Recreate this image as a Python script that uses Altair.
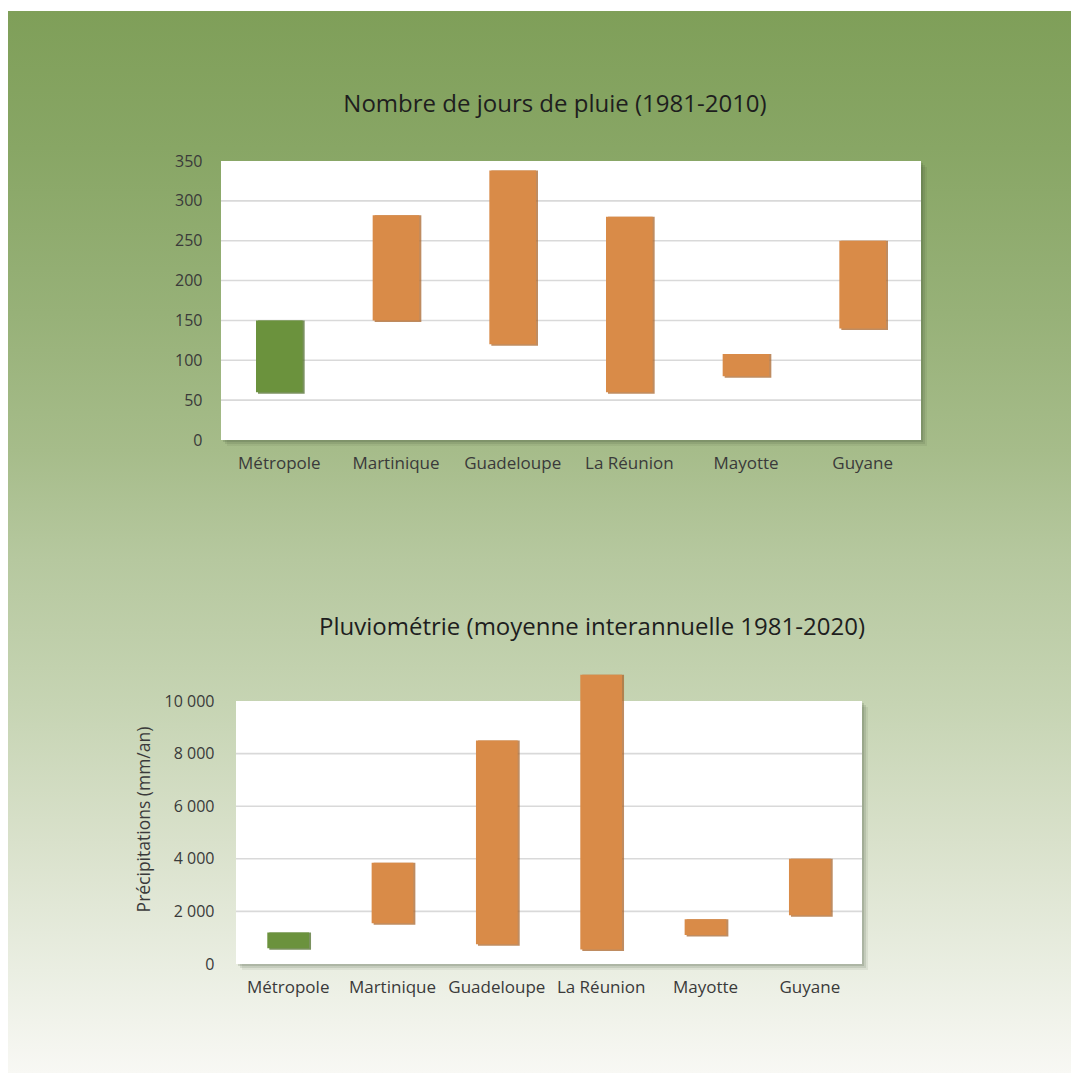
import altair as alt
import pandas as pd

# --- data -----------------------------------------------------------------
territories = ["Métropole", "Martinique", "Guadeloupe", "La Réunion", "Mayotte", "Guyane"]
groups = ["Hexagone", "Outre-mer", "Outre-mer", "Outre-mer", "Outre-mer", "Outre-mer"]

rain_days_low = [60, 150, 120, 60, 80, 140]
rain_days_high = [150, 282, 338, 280, 108, 250]

precip_low = [600, 1550, 750, 550, 1100, 1850]
precip_high = [1200, 3850, 8500, 11000, 1700, 4000]

days_ticks = [0, 50, 100, 150, 200, 250, 300, 350]
days_grid = [50, 100, 150, 200, 250, 300]
precip_ticks = [0, 2000, 4000, 6000, 8000, 10000]
precip_grid = [2000, 4000, 6000, 8000]

title_days = "Nombre de jours de pluie (1981-2010)"
title_precip = "Pluviométrie (moyenne interannuelle 1981-2020)"
precip_axis_title = "Précipitations (mm/an)"

# --- styling ----------------------------------------------------------------
FONT = "Open Sans"
TEXT = "#3a3a3a"
GREEN, GREEN_DARK = "#6b923d", "#4f6e2b"
ORANGE, ORANGE_DARK = "#d98b48", "#a9652c"
GRID = "#d9d9d9"

W = 700          # shared panel width
H_TOP = 279      # top plot height
H_BOT = 263      # bottom plot height
BOT_X0, BOT_X1 = 15, 641   # bottom plot spans this part of the panel width

# page background: a vertical green-to-white gradient, split over both panels
def gradient(stops):
    return alt.Gradient(
        gradient="linear", x1=0, x2=0, y1=0, y2=1,
        stops=[alt.GradientStop(color=c, offset=o) for o, c in stops],
    )

top_bg = gradient([(0.0, "#7f9f59"), (0.25, "#88a665"), (0.55, "#97b178"),
                   (0.80, "#a6bc8a"), (1.0, "#b6c89f")])
bot_bg = gradient([(0.0, "#b6c89f"), (0.28, "#c6d4b3"), (0.55, "#d9e1cb"),
                   (0.80, "#eaeee2"), (1.0, "#f8f8f4")])

one = pd.DataFrame({"k": [0]})
is_hexagone = alt.datum.groupe == "Hexagone"


def panel(low, high, ticks, grid, height, x_range, y_axis, title, title_pos, bg, bg_y, label_pad):
    df = pd.DataFrame({"territoire": territories, "groupe": groups, "bas": low, "haut": high})
    gdf = pd.DataFrame({"v": grid})
    x0, x1 = x_range

    y_scale = alt.Scale(domain=[ticks[0], ticks[-1]], nice=False, zero=True)
    x_scale = alt.Scale(domain=territories, range=[x0, x1], paddingInner=0.6, paddingOuter=0.3)
    x_axis = alt.Axis(title=None, labelAngle=0, ticks=False, domain=False, grid=False, zindex=1,
                      labelPadding=label_pad, labelFontSize=17, labelColor=TEXT, labelFont=FONT)

    background = alt.Chart(one).mark_rect(fill=bg).encode(
        x=alt.value(-213), x2=alt.value(850), y=alt.value(bg_y[0]), y2=alt.value(bg_y[1])
    )
    shadows = [
        alt.Chart(one).mark_rect(fill="#34452a", opacity=op).encode(
            x=alt.value(x0 + d), x2=alt.value(x1 + d), y=alt.value(d), y2=alt.value(height + d)
        )
        for d, op in [(2, 0.16), (4, 0.12), (6, 0.08)]
    ]
    plot_bg = alt.Chart(one).mark_rect(fill="white").encode(
        x=alt.value(x0), x2=alt.value(x1), y=alt.value(0), y2=alt.value(height)
    )
    grid_lines = alt.Chart(gdf).mark_rule(color=GRID, strokeWidth=1.6).encode(
        y=alt.Y("v:Q", scale=y_scale, axis=y_axis),
        x=alt.value(x0), x2=alt.value(x1),
    )
    bar_shadow = alt.Chart(df).mark_bar(xOffset=2, yOffset=1.5, opacity=0.75).encode(
        x=alt.X("territoire:N", scale=x_scale, sort=territories, axis=x_axis),
        y=alt.Y("bas:Q", scale=y_scale, axis=y_axis),
        y2="haut:Q",
        color=alt.condition(is_hexagone, alt.value(GREEN_DARK), alt.value(ORANGE_DARK)),
    )
    bars = alt.Chart(df).mark_bar().encode(
        x=alt.X("territoire:N", scale=x_scale, sort=territories, axis=x_axis),
        y=alt.Y("bas:Q", scale=y_scale, axis=y_axis),
        y2="haut:Q",
        color=alt.condition(is_hexagone, alt.value(GREEN), alt.value(ORANGE)),
    )
    heading = alt.Chart(one).mark_text(
        text=title, font=FONT, fontSize=24, color="#1e1e1e", align="center", baseline="alphabetic"
    ).encode(x=alt.value(title_pos[0]), y=alt.value(title_pos[1]))

    return alt.layer(background, *shadows, plot_bg, grid_lines, bar_shadow, bars, heading).properties(
        width=W, height=height
    )


top_axis = alt.Axis(
    values=days_ticks, title=None, grid=False, domain=False, ticks=False, tickSize=0, zindex=1,
    labelPadding=19, labelFontSize=16, labelColor=TEXT, labelFont=FONT,
)
bot_axis = alt.Axis(
    values=precip_ticks, grid=False, domain=False, ticks=False, tickSize=0, zindex=1,
    labelPadding=7, labelFontSize=16, labelColor=TEXT, labelFont=FONT,
    labelExpr="replace(format(datum.value, ','), ',', ' ')",
    title=precip_axis_title, titleFont=FONT, titleFontSize=17.5, titleFontWeight="normal",
    titleColor=TEXT, titleX=-68, titleY=118, titleAngle=-90, titleBaseline="bottom",
)

top = panel(rain_days_low, rain_days_high, days_ticks, days_grid, H_TOP, (0, W), top_axis,
            title_days, (334, -49), top_bg, (-150, 399), 15)
bottom = panel(precip_low, precip_high, precip_ticks, precip_grid, H_BOT, (BOT_X0, BOT_X1), bot_axis,
               title_precip, (371, -66), bot_bg, (-141, 372), 15)

chart = alt.vconcat(top, bottom, spacing=0).resolve_scale(
    x="independent", y="independent"
).properties(
    padding={"left": 8, "top": 11, "right": 0, "bottom": 0},
    background="white",
).configure_view(stroke=None)

chart.save("out.html", embed_options={"renderer": "svg", "actions": False})
